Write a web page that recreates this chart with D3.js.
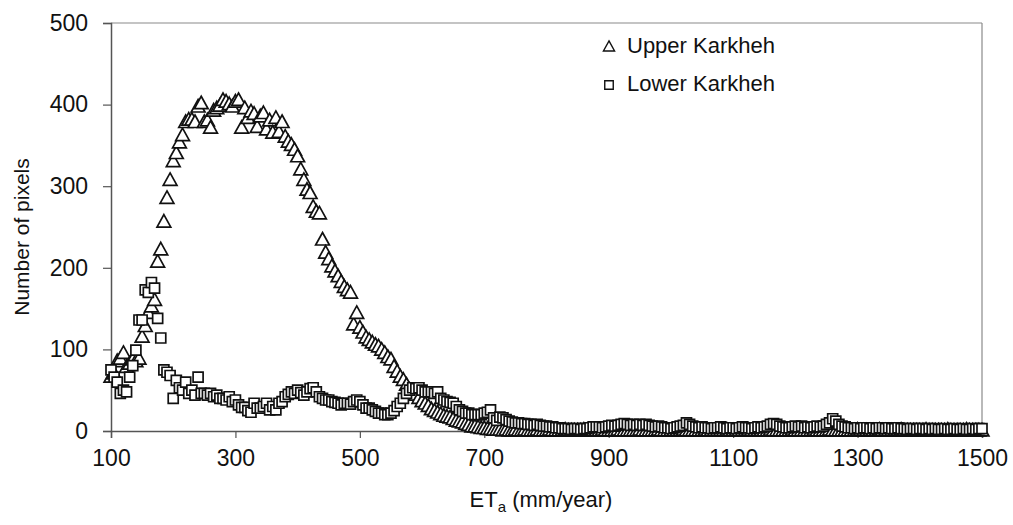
<!DOCTYPE html>
<html>
<head>
<meta charset="utf-8">
<script src="https://cdn.jsdelivr.net/npm/d3@7"></script>
<style>
  body { margin: 0; background: #fff; }
  text { font-family: Arial, "Liberation Sans", sans-serif; fill: #111; }
</style>
</head>
<body>
<svg id="chart" width="1013" height="525"></svg>
<script>
// Actual evapotranspiration bins (mm/year), 5 mm wide
const etaBins = d3.range(100, 1501, 5);

// Pixel counts per ETa bin, Upper Karkheh
const upperKarkheh = [
  66, 70, 85, 88, 95, 78, 82, 87, 85, 88,
  115, 128, 144, 152, 160, 207, 222, 256, 285, 307,
  330, 340, 353, 362, 378, 381, 381, 378, 397, 401,
  378, 380, 371, 392, 395, 398, 405, 403, 400, 397,
  403, 405, 371, 395, 383, 391, 388, 372, 385, 389,
  369, 380, 365, 383, 366, 378, 360, 354, 350, 344,
  336, 320, 307, 295, 291, 274, 268, 266, 234, 218,
  210, 201, 195, 189, 182, 176, 172, 169, 130, 144,
  126, 120, 114, 111, 108, 105, 103, 99, 95, 90,
  87, 78, 72, 66, 62, 56, 50, 47, 44, 40,
  36, 33, 30, 26, 24, 22, 20, 18, 17, 16,
  14, 12, 11, 10, 8, 7, 5, 5, 4, 3,
  3, 2, 2, 1, 1, 1, 0, 1, 0, 0,
  1, 0, 0, 1, 0, 0, 0, 1, 0, 0,
  0, 1, 0, 0, 0, 0, 1, 0, 0, 0,
  0, 0, 1, 0, 0, 0, 0, 0, 1, 0,
  0, 0, 0, 1, 0, 0, 0, 0, 0, 0,
  1, 0, 0, 0, 0, 0, 1, 0, 0, 0,
  0, 0, 0, 0, 1, 0, 0, 0, 0, 0,
  0, 1, 0, 0, 0, 0, 0, 0, 1, 0,
  0, 0, 0, 0, 0, 1, 0, 0, 0, 0,
  0, 0, 1, 0, 0, 0, 0, 0, 0, 1,
  0, 0, 0, 0, 0, 0, 1, 0, 0, 0,
  0, 1, 0, 0, 0, 0, 0, 0, 0, 0,
  1, 0, 0, 0, 0, 0, 0, 1, 0, 0,
  0, 0, 0, 0, 1, 0, 0, 0, 0, 0,
  0, 0, 1, 0, 0, 0, 0, 0, 0, 1,
  0, 0, 0, 0, 0, 1, 0, 0, 0, 0,
  0
];

// Pixel counts per ETa bin, Lower Karkheh
const lowerKarkheh = [
  75, 66, 60, 46, 50, 48, 66, 80, 99, 136,
  136, 173, 170, 182, 175, 138, 114, 75, 72, 68,
  40, 62, 53, 50, 60, 46, 50, 44, 66, 46,
  46, 44, 46, 42, 44, 40, 40, 38, 42, 36,
  38, 32, 29, 29, 25, 23, 34, 28, 28, 30,
  34, 26, 30, 26, 34, 36, 42, 45, 48, 46,
  50, 47, 44, 48, 52, 53, 48, 42, 40, 38,
  38, 36, 35, 34, 32, 34, 34, 33, 36, 38,
  36, 32, 28, 28, 26, 24, 22, 22, 20, 20,
  22, 25, 30, 34, 40, 46, 50, 53, 52, 53,
  50, 48, 48, 48, 46, 48, 40, 38, 36, 35,
  34, 30, 26, 24, 22, 22, 20, 20, 20, 20,
  22, 23, 26, 16, 13, 17, 16, 14, 12, 11,
  10, 10, 9, 9, 8, 8, 7, 8, 7, 6,
  6, 5, 5, 4, 4, 3, 3, 3, 2, 3,
  3, 2, 3, 3, 4, 5, 5, 5, 4, 5,
  6, 7, 6, 7, 8, 9, 8, 7, 8, 7,
  8, 7, 8, 7, 6, 5, 6, 5, 4, 4,
  3, 4, 5, 6, 7, 10, 8, 6, 5, 4,
  5, 4, 4, 3, 4, 4, 5, 4, 3, 4,
  4, 3, 4, 5, 4, 4, 3, 4, 5, 4,
  5, 6, 8, 9, 8, 6, 5, 4, 4, 5,
  6, 5, 6, 4, 5, 4, 5, 6, 5, 6,
  8, 10, 15, 12, 8, 6, 5, 4, 4, 3,
  4, 3, 4, 4, 3, 4, 3, 4, 4, 3,
  4, 3, 3, 4, 3, 3, 2, 3, 3, 2,
  3, 3, 2, 3, 2, 3, 2, 2, 3, 2,
  2, 3, 2, 2, 3, 2, 2, 3, 2, 3,
  3
];

const seriesNames = ["Upper Karkheh", "Lower Karkheh"];
const xTicks = [100, 300, 500, 700, 900, 1100, 1300, 1500];
const yTicks = [0, 100, 200, 300, 400, 500];

const svg = d3.select("#chart");
const plot = { left: 111, right: 982, top: 23, bottom: 431 };

const x = d3.scaleLinear().domain([100, 1500]).range([plot.left, plot.right]);
const y = d3.scaleLinear().domain([0, 500]).range([plot.bottom, plot.top]);

// Marker shapes
const triPath = s => `M0,${-s * 0.58}L${s * 0.53},${s * 0.38}L${-s * 0.53},${s * 0.38}Z`;
const sqPath = s => `M${-s / 2},${-s / 2}h${s}v${s}h${-s}Z`;

// Frame: light top/right, darker left/bottom axes
svg.append("line").attr("x1", plot.left).attr("x2", plot.right)
  .attr("y1", plot.top).attr("y2", plot.top)
  .attr("stroke", "#8a8a8a").attr("stroke-width", 1.2);
svg.append("line").attr("x1", plot.right).attr("x2", plot.right)
  .attr("y1", plot.top).attr("y2", plot.bottom)
  .attr("stroke", "#8a8a8a").attr("stroke-width", 1.2);

// Y axis
const yAxis = svg.append("g")
  .attr("transform", `translate(${plot.left},0)`)
  .call(d3.axisLeft(y).tickValues(yTicks).tickSize(8).tickPadding(15));
// X axis
const xAxis = svg.append("g")
  .attr("transform", `translate(0,${plot.bottom})`)
  .call(d3.axisBottom(x).tickValues(xTicks).tickSize(7).tickPadding(12).tickFormat(d3.format("d")));

[yAxis, xAxis].forEach(g => {
  g.select(".domain").attr("stroke", "#555").attr("stroke-width", 1.5);
  g.selectAll(".tick line").attr("stroke", "#555").attr("stroke-width", 1.2);
  g.selectAll(".tick text")
    .attr("font-size", 23)
    .attr("font-family", "Arial, 'Liberation Sans', sans-serif")
    .attr("fill", "#111");
});

// Series points: Upper first, Lower drawn on top
const upperPts = etaBins.map((e, i) => ({ e, v: upperKarkheh[i] }));
const lowerPts = etaBins.map((e, i) => ({ e, v: lowerKarkheh[i] }));

svg.append("g").selectAll("path").data(upperPts).join("path")
  .attr("d", triPath(13))
  .attr("transform", d => `translate(${x(d.e)},${y(d.v)})`)
  .attr("fill", "#fff").attr("stroke", "#111").attr("stroke-width", 1.7)
  .attr("stroke-linejoin", "miter");

svg.append("g").selectAll("path").data(lowerPts).join("path")
  .attr("d", sqPath(10))
  .attr("transform", d => `translate(${x(d.e)},${y(d.v)})`)
  .attr("fill", "#fff").attr("stroke", "#111").attr("stroke-width", 1.7);

// Legend
const legend = svg.append("g");
const legendRows = [
  { name: seriesNames[0], shape: triPath(10.5), ty: 53 },
  { name: seriesNames[1], shape: sqPath(8.5), ty: 91 }
];
legendRows.forEach(r => {
  legend.append("path").attr("d", r.shape)
    .attr("transform", `translate(609,${r.ty - 6})`)
    .attr("fill", "#fff").attr("stroke", "#111").attr("stroke-width", 1.4);
  legend.append("text").attr("x", 627).attr("y", r.ty)
    .attr("font-size", 22).text(r.name);
});

// Axis titles
svg.append("text")
  .attr("transform", "translate(29,237) rotate(-90)")
  .attr("text-anchor", "middle")
  .attr("font-size", 21)
  .text("Number of pixels");

const xt = svg.append("text")
  .attr("x", 541).attr("y", 507)
  .attr("text-anchor", "middle")
  .attr("font-size", 22);
xt.append("tspan").text("ET");
xt.append("tspan").attr("font-size", 15).attr("dy", 5).text("a");
xt.append("tspan").attr("dy", -5).text(" (mm/year)");
</script>
</body>
</html>
